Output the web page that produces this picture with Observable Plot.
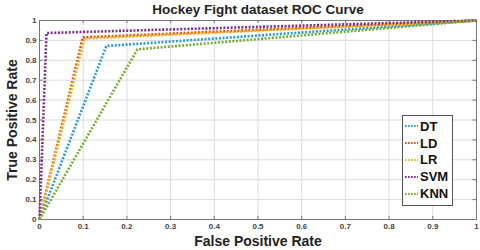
<!DOCTYPE html>
<html>
<head>
<meta charset="utf-8">
<script src="https://cdn.jsdelivr.net/npm/d3@7"></script>
<script src="https://cdn.jsdelivr.net/npm/@observablehq/plot@0.6"></script>
<style>
  html, body { margin: 0; padding: 0; background: #fff; }
  #wrap { position: relative; width: 480px; height: 250px; font-family: "Liberation Sans", Arial, sans-serif; }
  #legend { position: absolute; left: 402px; top: 115px; width: 49px; height: 87px; border: 1px solid #555; background: #fff; box-sizing: content-box; padding-top: 2px; }
  .row { display: flex; align-items: center; height: 16.8px; font-weight: bold; font-size: 13px; color: #111; }
  .row svg { margin-left: 2px; margin-right: 2px; }
</style>
</head>
<body>
<div id="wrap"></div>
<script>
// ---- data ----
const title = "Hockey Fight dataset ROC Curve";
const xLabel = "False Positive Rate";
const yLabel = "True Positive Rate";
const seriesNames = ["DT", "LD", "LR", "SVM", "KNN"];
const seriesColors = ["#2a9bd6", "#D95319", "#EDB120", "#7E2F8E", "#77AC30"];
const fprDT  = [0, 0.153, 1];
const tprDT  = [0, 0.872, 1];
const fprLD  = [0, 0.099, 1];
const tprLD  = [0, 0.915, 1];
const fprLR  = [0, 0.103, 1];
const tprLR  = [0, 0.909, 1];
const fprSVM = [0, 0.016, 1];
const tprSVM = [0, 0.937, 1];
const fprKNN = [0, 0.224, 1];
const tprKNN = [0, 0.855, 1];
const tickValues = [0, 0.1, 0.2, 0.3, 0.4, 0.5, 0.6, 0.7, 0.8, 0.9, 1];
const tickLabels = ["0", "0.1", "0.2", "0.3", "0.4", "0.5", "0.6", "0.7", "0.8", "0.9", "1"];

const fprs = [fprDT, fprLD, fprLR, fprSVM, fprKNN];
const tprs = [tprDT, tprLD, tprLR, tprSVM, tprKNN];
const rows = [];
seriesNames.forEach((name, i) => {
  fprs[i].forEach((f, j) => rows.push({ series: name, fpr: f, tpr: tprs[i][j] }));
});
const fmt = d => tickLabels[tickValues.indexOf(d)] ?? String(d);

const lineMarks = seriesNames.map((name, i) =>
  Plot.line(rows.filter(r => r.series === name), {
    x: "fpr", y: "tpr", stroke: seriesColors[i], strokeWidth: 2.6,
    strokeDasharray: "2,1.6", strokeLinecap: "butt"
  })
);

const chart = Plot.plot({
  width: 480, height: 250,
  marginLeft: 39, marginRight: 4, marginTop: 20, marginBottom: 31,
  style: { fontFamily: "Liberation Sans, Arial, sans-serif", background: "#fff" },
  x: { domain: [0, 1], label: null },
  y: { domain: [0, 1], label: null },
  marks: [
    Plot.gridX(tickValues, { stroke: "#dcdcdc", strokeOpacity: 1 }),
    Plot.gridY(tickValues, { stroke: "#dcdcdc", strokeOpacity: 1 }),
    Plot.frame({ stroke: "#777", strokeWidth: 1 }),
    Plot.axisX({ ticks: tickValues, tickFormat: fmt, tickSize: 0, tickPadding: 4, fontSize: 8, fontWeight: "bold", fill: "#444", label: null }),
    Plot.axisY({ ticks: tickValues, tickFormat: fmt, tickSize: 0, tickPadding: 3, fontSize: 8, fontWeight: "bold", fill: "#444", label: null }),
    Plot.ruleY(tickValues, { y: d => d, x1: 0.992, x2: 1, stroke: "#777" }),
    Plot.ruleY(tickValues, { y: d => d, x1: 0, x2: 0.008, stroke: "#777" }),
    Plot.ruleX(tickValues, { x: d => d, y1: 0.985, y2: 1, stroke: "#777" }),
    Plot.ruleX(tickValues, { x: d => d, y1: 0, y2: 0.015, stroke: "#777" }),
    ...lineMarks,
    Plot.text([title], { frameAnchor: "top", dy: -11, lineAnchor: "middle", textAnchor: "middle", fontSize: 13.5, fontWeight: "bold", fill: "#222" }),
    Plot.text([xLabel], { frameAnchor: "bottom", dy: 22, lineAnchor: "middle", textAnchor: "middle", fontSize: 14, fontWeight: "bold", fill: "#222" }),
    Plot.text([yLabel], { frameAnchor: "left", dx: -27, rotate: -90, lineAnchor: "middle", textAnchor: "middle", fontSize: 14, fontWeight: "bold", fill: "#222" })
  ]
});
document.getElementById("wrap").appendChild(chart);

// legend
const legend = document.createElement("div");
legend.id = "legend";
seriesNames.forEach((name, i) => {
  const row = document.createElement("div");
  row.className = "row";
  row.innerHTML = `<svg width="13" height="4"><line x1="0" y1="2" x2="13" y2="2" stroke="${seriesColors[i]}" stroke-width="2" stroke-dasharray="1.6,1.4"/></svg><span>${name}</span>`;
  legend.appendChild(row);
});
document.getElementById("wrap").appendChild(legend);
</script>
</body>
</html>
